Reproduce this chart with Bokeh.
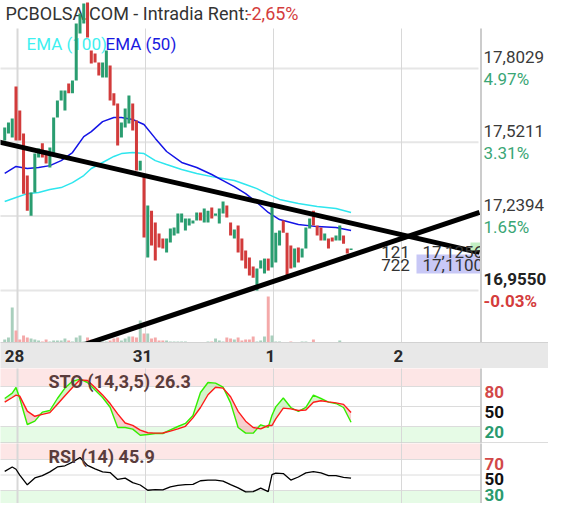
import numpy as np
from bokeh.plotting import figure
from bokeh.models import Range1d
from bokeh.layouts import column
from bokeh.embed import file_html
from bokeh.resources import INLINE
from bokeh.core.properties import value

# ---------------- data ----------------
session_labels = ["28", "31", "1", "2"]
session_first_bar = [0, 34, 68, 102]          # 34 bars of 15 min per session

bar = list(range(-3, 90))
opens = [
    17.528, 17.555, 17.539, 17.734, 17.643, 17.555, 17.394, 17.241, 17.329, 17.463,
    17.517, 17.490, 17.425, 17.478, 17.616, 17.681, 17.643, 17.746, 17.708, 17.757,
    17.937, 17.975, 18.055, 17.872, 17.860, 17.826, 17.769, 17.769, 17.814, 17.708,
    17.669, 17.539, 17.578, 17.593, 17.669, 17.604, 17.413, 17.394, 17.081, 17.260,
    17.215, 17.173, 17.154, 17.100, 17.138, 17.165, 17.173, 17.215, 17.184, 17.203,
    17.211, 17.222, 17.253, 17.215, 17.215, 17.272, 17.241, 17.211, 17.249, 17.280,
    17.215, 17.154, 17.203, 17.154, 17.108, 17.081, 17.047, 16.955, 17.039, 17.020,
    17.077, 17.043, 17.062, 17.127, 17.222, 17.176, 17.127, 17.043, 17.119, 17.081,
    17.115, 17.192, 17.260, 17.203, 17.196, 17.146, 17.154, 17.157, 17.146, 17.146,
    17.165, 17.115, 17.111,
]
closes = [
    17.578, 17.597, 17.612, 17.528, 17.528, 17.325, 17.260, 17.329, 17.478, 17.497,
    17.463, 17.440, 17.501, 17.616, 17.681, 17.719, 17.719, 17.708, 17.757, 17.975,
    18.013, 18.051, 17.921, 17.822, 17.826, 17.776, 17.826, 17.872, 17.681, 17.662,
    17.509, 17.597, 17.650, 17.700, 17.566, 17.413, 17.451, 17.157, 17.280, 17.127,
    17.070, 17.119, 17.115, 17.154, 17.192, 17.196, 17.249, 17.249, 17.230, 17.230,
    17.222, 17.253, 17.222, 17.268, 17.260, 17.230, 17.249, 17.268, 17.295, 17.234,
    17.165, 17.188, 17.100, 17.070, 17.039, 17.012, 17.004, 17.039, 17.070, 17.077,
    17.031, 17.291, 17.176, 17.184, 17.176, 17.012, 17.039, 17.115, 17.062, 17.115,
    17.196, 17.230, 17.203, 17.165, 17.146, 17.173, 17.115, 17.142, 17.165, 17.203,
    17.134, 17.096, 17.115,
]
volume = [
    6, 10, 70, 24, 6, 14, 10, 8, 6, 4,
    2, 6, 2, 4, 4, 4, 8, 4, 2, 10,
    14, 2, 10, 6, 2, 2, 2, 2, 4, 8,
    10, 4, 8, 12, 12, 10, 44, 18, 18, 8,
    10, 4, 4, 4, 2, 2, 2, 2, 2, 1,
    1, 1, 1, 1, 2, 2, 8, 4, 2, 10,
    8, 6, 10, 4, 6, 6, 12, 2, 4, 12,
    92, 14, 2, 2, 1, 1, 2, 1, 1, 2,
    2, 1, 6, 1, 1, 1, 1, 1, 1, 4,
    1, 1, 1,
]

ema_bar = [-3, 0, 3, 6, 9, 12, 15, 18, 20, 23, 26, 28, 31, 34, 37, 40, 44, 48, 52,
           55, 58, 61, 64, 67, 70, 75, 80, 85, 89]
ema50 = [17.402, 17.429, 17.421, 17.425, 17.432, 17.451, 17.482, 17.543, 17.562, 17.600,
         17.616, 17.616, 17.608, 17.589, 17.536, 17.486, 17.444, 17.425, 17.398, 17.375,
         17.352, 17.325, 17.291, 17.253, 17.226, 17.207, 17.199, 17.196, 17.184]
ema100 = [17.295, 17.310, 17.325, 17.329, 17.341, 17.348, 17.367, 17.394, 17.421, 17.444,
          17.467, 17.478, 17.482, 17.478, 17.451, 17.436, 17.417, 17.402, 17.390, 17.383,
          17.375, 17.360, 17.344, 17.322, 17.303, 17.287, 17.276, 17.268, 17.253]

trend_down_bar = [-3, 120]
trend_down_price = [17.517, 17.110]
trend_up_bar = [20, 120]
trend_up_price = [16.757, 17.238]

price_levels = [17.8029, 17.5211, 17.2394, 16.9550]
price_labels = ["17,8029", "17,5211", "17,2394", "16,9550"]
pct_labels = ["4.97%", "3.31%", "1.65%", "-0.03%"]

osc_bar = [-3, -1, 0, 1, 3, 5, 7, 9, 11, 13, 15, 17, 19, 21, 23, 25, 27, 29, 31, 33,
           35, 37, 39, 41, 43, 45, 47, 49, 51, 53, 55, 57, 59, 61, 63, 65, 67, 68, 69,
           71, 73, 75, 77, 79, 81, 83, 85, 87, 89]
sto_k = [62, 70, 78.5, 62, 23, 28, 41.6, 44, 62, 77.6, 87.8, 91, 86, 74.6, 63.5, 48.8,
         18.5, 18.5, 16, 6.8, 8, 9.5, 9.5, 14.9, 20, 24.6, 36.5, 71, 86, 85, 79, 55.5,
         18.5, 10, 10, 22.5, 18.8, 36.8, 49.4, 62.7, 48.5, 42.5, 48.7, 67, 62, 56.6,
         54.5, 48.5, 26.3]
sto_d = [56.6, 63.5, 67, 65.6, 43.1, 35.3, 38.2, 40.8, 53.5, 66.2, 78.5, 90, 89, 78.5,
         67.4, 54.4, 39, 25.2, 21.8, 14.5, 10.6, 10, 10.3, 13, 16.4, 20.3, 32.9, 48.5,
         67.6, 78.8, 77.6, 64.7, 42.8, 28, 18.5, 16.4, 21.5, 21.5, 31.4, 47.6, 46.4, 44,
         44.7, 56.4, 58.7, 56.9, 55.4, 53.2, 41]
rsi = [54.6, 60.3, 57.4, 49.9, 37.3, 46.2, 49.1, 54, 60.4, 61.9, 66.6, 72.6, 62.4, 58,
       54.1, 53.1, 44.3, 46, 40.1, 37.1, 30.3, 31.1, 30.9, 34.8, 36.7, 37.5, 38, 42.6,
       43.5, 43.5, 42.2, 37.5, 33.4, 28.3, 28.5, 33.1, 28.5, 50.5, 52.3, 51.8, 43.5,
       47.4, 52.7, 54.3, 52.8, 49.1, 49.3, 47, 45.9]
sto_levels = [80, 50, 20]
sto_level_colors = ["#d24848", "#111111", "#2a9a6e"]
rsi_levels = [70, 50, 30]
rsi_level_colors = ["#d24848", "#111111", "#2a9a6e"]

title_text = "PCBOLSA.COM - Intradia  Rent:"
rent_text = "-2,65%"
sto_title = "STO (14,3,5) 26.3"
rsi_title = "RSI (14) 45.9"
book_sizes = ["121", "722"]
book_prices = ["17,1256", "17,1100"]

# ---------------- layout helpers (reference pixel -> data) ----------------
FONT = value("Roboto")
W = 548
H_MAIN, H_STO, H_RSI = 368, 75, 60
BAR_PX = 128 / 34
BAR0_PX = 15.5
PRICE_PX = 261.8
RSI_PX = 0.775


def bx(px):
    return (px - BAR0_PX) / BAR_PX


def py_price(py):
    return 16.955 + (290 - py) / PRICE_PX


def py_vol(py):
    return (342 - py) * 2.0


def py_sto(py):
    return 50 + (406 - py) * 1.5


def py_rsi(py):
    return 50 + (474.5 - py) / RSI_PX


xr = Range1d(bx(0), bx(W))
LEFT, DIV, RIGHT = bx(0) - 1, bx(480), bx(W) + 1
grid_x = [s + 0.4 for s in session_first_bar]
grid_w = [2, 1, 1, 1]


def make_fig(h, y0, y1):
    f = figure(width=W, height=h, x_range=xr, y_range=Range1d(y0, y1),
               output_backend="svg", toolbar_location=None, tools="",
               min_border=0, x_axis_location=None, y_axis_location=None,
               outline_line_color=None, title=None,
               background_fill_color="white", border_fill_color="white")
    f.grid.visible = False
    return f


def txt(f, x, y, t, color, size="17px", align="left", style="normal", **kw):
    f.text(x=x, y=y, text=t, text_color=color, text_font=FONT,
           text_font_size=size, text_align=align, text_baseline="middle",
           text_font_style=style, **kw)


# ---------------- main price panel ----------------
p = make_fig(H_MAIN, py_price(368), py_price(0))
p.extra_y_ranges = {"vol": Range1d(py_vol(368), py_vol(0))}
TOP, BOT = py_price(28), py_price(342)

p.segment(x0=LEFT, x1=bx(478), y0=price_levels, y1=price_levels,
          line_color="#e6e6e6", line_width=2)
p.segment(x0=grid_x, x1=grid_x, y0=BOT, y1=TOP, line_color="#d8d8d8", line_width=grid_w)

o = np.array(opens)
c = np.array(closes)
up = c >= o
vol_col = ["#a9cfbd" if u else "#f4a9a9" for u in up]
p.vbar(x=bar, top=volume, bottom=0, width=0.78, fill_color=vol_col, line_color=None,
       y_range_name="vol")

txt(p, [bx(26)], [py_price(43)], ["EMA (100)"], "#3ff0f0")
txt(p, [bx(105)], [py_price(43)], ["EMA (50)"], "#1a1ae0")
txt(p, [bx(5)], [py_price(13)], [title_text], "#333333", size="18px")
txt(p, [bx(246)], [py_price(13)], [rent_text], "#d43c3c", size="18px")

p.line(ema_bar, ema100, line_color="#2ee6ee", line_width=1.5)
p.line(ema_bar, ema50, line_color="#1414e6", line_width=1.5)

body_top = np.maximum(o, c)
body_bot = np.minimum(o, c)
thin = (body_top - body_bot) < 0.005
body_bot = np.where(thin, body_top - 0.005, body_bot)
candle_col = ["#2a9d70" if u else "#d23b3b" for u in up]
p.vbar(x=bar, top=body_top, bottom=body_bot, width=0.8, fill_color=candle_col,
       line_color=None)


def trend(bars, prices, x_from, x_to):
    slope = (prices[1] - prices[0]) / (bars[1] - bars[0])
    xs = np.array([x_from, x_to])
    return xs, prices[0] + slope * (xs - bars[0])


xs, ys = trend(trend_down_bar, trend_down_price, LEFT, bx(479))
p.line(xs, ys, line_color="black", line_width=5)
xs, ys = trend(trend_up_bar, trend_up_price, 10, bx(479))
p.line(xs, ys, line_color="black", line_width=5)

# order book marker near last price
p.quad(left=bx(416), right=DIV, bottom=py_price(273), top=py_price(254),
       fill_color="#c8c8f6", line_color=None)
p.quad(left=bx(470), right=DIV, bottom=py_price(250), top=py_price(242),
       fill_color="#c3efc3", line_color=None)
txt(p, [bx(395)] * 2, [py_price(251.5), py_price(264.5)], book_sizes, "#333333",
    align="center")
txt(p, [bx(422)] * 2, [py_price(251.5), py_price(264.5)], book_prices, "#333333")

# right scale area
p.quad(left=DIV, right=RIGHT, bottom=BOT, top=TOP, fill_color="white", line_color=None)
p.segment(x0=bx(480.5), x1=bx(480.5), y0=BOT, y1=TOP, line_color="#cccccc", line_width=2)
lab_style = ["normal", "normal", "normal", "bold"]
pct_col = ["#3aa675", "#3aa675", "#3aa675", "#d43c3c"]
lv = np.array(price_levels)
txt(p, [bx(483)] * 4, list(lv + 11.5 / PRICE_PX), price_labels,
    ["#3a3a3a", "#3a3a3a", "#3a3a3a", "#222222"], style=lab_style)
txt(p, [bx(483)] * 4, list(lv - 10.5 / PRICE_PX), pct_labels, pct_col, style=lab_style)

# time axis band
p.quad(left=LEFT, right=RIGHT, bottom=py_price(370), top=BOT, fill_color="#e8e8e8",
       line_color=None)
p.segment(x0=LEFT, x1=RIGHT, y0=BOT, y1=BOT, line_color="#d2d2d2", line_width=1)
txt(p, [g - 0.8 for g in grid_x], [py_price(355)] * 4, session_labels, "#2a2a2a",
    align="center", style="bold")

# ---------------- stochastic panel ----------------
s = make_fig(H_STO, py_sto(443), py_sto(368))
s.quad(left=LEFT, right=DIV, bottom=80, top=py_sto(366), fill_color="#fde6e6",
       line_color=None)
s.quad(left=LEFT, right=DIV, bottom=py_sto(445), top=20, fill_color="#e6fbe6",
       line_color=None)
s.segment(x0=LEFT, x1=DIV, y0=sto_levels, y1=sto_levels, line_color="#dcdcdc",
          line_width=1)
s.segment(x0=grid_x, x1=grid_x, y0=py_sto(445), y1=py_sto(366), line_color="#d8d8d8",
          line_width=grid_w)
s.segment(x0=bx(480.5), x1=bx(480.5), y0=py_sto(445), y1=py_sto(366),
          line_color="#cccccc", line_width=2)
s.segment(x0=LEFT, x1=RIGHT, y0=py_sto(442.5), y1=py_sto(442.5), line_color="#d0d0d0",
          line_width=1.5)
k = np.array(sto_k)
d = np.array(sto_d)
hi = np.maximum(k, d)
s.varea(x=osc_bar, y1=d, y2=hi, fill_color="#b6efa8", fill_alpha=0.6)
s.varea(x=osc_bar, y1=k, y2=hi, fill_color="#f3b0b0", fill_alpha=0.6)
s.line(osc_bar, sto_k, line_color="#33ee00", line_width=1.4)
s.line(osc_bar, sto_d, line_color="#ff1a1a", line_width=1.4)
txt(s, [bx(48)], [py_sto(381)], [sto_title], "#5a3c3c", size="18px", style="bold")
txt(s, [bx(484)] * 3, [v - 5 * 1.5 for v in sto_levels], [str(v) for v in sto_levels],
    sto_level_colors, style="bold")

# ---------------- RSI panel ----------------
r = make_fig(H_RSI, py_rsi(503), py_rsi(443))
r.quad(left=LEFT, right=DIV, bottom=70, top=py_rsi(441), fill_color="#fde6e6",
       line_color=None)
r.quad(left=LEFT, right=DIV, bottom=py_rsi(506), top=30, fill_color="#e6fbe6",
       line_color=None)
r.segment(x0=LEFT, x1=DIV, y0=rsi_levels, y1=rsi_levels, line_color="#dcdcdc",
          line_width=1)
r.segment(x0=grid_x, x1=grid_x, y0=py_rsi(506), y1=py_rsi(441), line_color="#d8d8d8",
          line_width=grid_w)
r.segment(x0=bx(480.5), x1=bx(480.5), y0=py_rsi(506), y1=py_rsi(441),
          line_color="#cccccc", line_width=2)
r.line(osc_bar, rsi, line_color="black", line_width=1.3)
txt(r, [bx(48)], [py_rsi(456)], [rsi_title], "#5a3c3c", size="18px", style="bold")
rsi_lab_y = [v - 4 / RSI_PX for v in rsi_levels]
txt(r, [bx(484)] * 3, rsi_lab_y, [str(v) for v in rsi_levels], rsi_level_colors,
    style="bold")

layout = column(p, s, r, spacing=0)
open("out.html", "w").write(file_html(layout, INLINE))
